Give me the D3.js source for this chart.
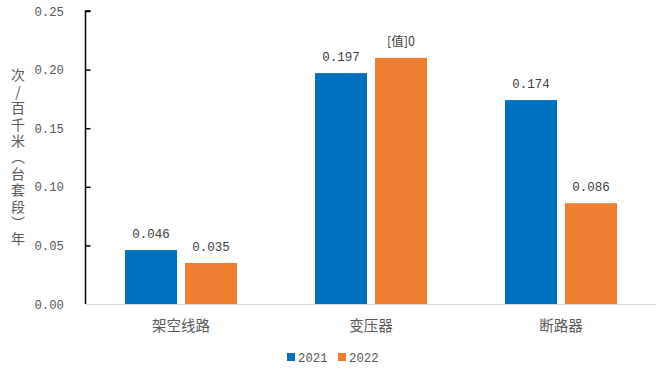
<!DOCTYPE html>
<html>
<head>
<meta charset="utf-8">
<script src="https://cdn.jsdelivr.net/npm/d3@7"></script>
<style>
html,body{margin:0;padding:0;background:#fff;}
svg{display:block;}
</style>
</head>
<body>
<svg id="chart" width="667" height="369"></svg>
<script>
const categories = ["架空线路", "变压器", "断路器"];
const seriesNames = ["2021", "2022"];
const values2021 = [0.046, 0.197, 0.174];
const values2022 = [0.035, 0.210, 0.086];
const labels2021 = ["0.046", "0.197", "0.174"];
const labels2022 = ["0.035", "[值]0", "0.086"];
const yTicks = [0, 0.05, 0.10, 0.15, 0.20, 0.25];
const yTickLabels = ["0.00", "0.05", "0.10", "0.15", "0.20", "0.25"];
const yTitle = "次/百千米（台套段）年";
const colors = ["#0070C0", "#ED7D31"];

(function () {
const svg = d3.select("#chart");
const pLeft = 86, pRight = 656, pTop = 11, pBottom = 304;
const monoFont = "'Liberation Mono', 'DejaVu Sans Mono', monospace";
const cjkFont = "'Noto Sans CJK SC', sans-serif";

const x = d3.scaleBand().domain(categories).range([pLeft, pRight]).paddingInner(0).paddingOuter(0);
const inner = d3.scaleBand().domain(seriesNames).range([39, 151]).paddingInner(8/60).paddingOuter(0);
const y = d3.scaleLinear().domain([0, 0.25]).range([pBottom, pTop]);

// baseline
svg.append("line").attr("x1", pLeft).attr("x2", pRight).attr("y1", y(0)+0.5).attr("y2", y(0)+0.5)
  .attr("stroke", "#d9d9d9").attr("stroke-width", 1);

// y axis
const yAxis = d3.axisRight(y).tickValues(yTicks).tickSize(5).tickFormat("");
const ga = svg.append("g").attr("transform", `translate(${pLeft-0.5},0)`).call(yAxis);
ga.select(".domain").attr("stroke", "#000").attr("stroke-width", 1.5).attr("d", `M5,${pTop}H0V${pBottom}`);
ga.selectAll(".tick line").attr("stroke", "#000").attr("stroke-width", 1.5);
ga.selectAll(".tick").filter(d => d === 0).remove();

// tick labels
svg.append("g").selectAll("text").data(yTicks).join("text")
  .attr("x", 64).attr("y", d => y(d) + 4.5)
  .attr("text-anchor", "end")
  .attr("font-family", monoFont).attr("font-size", 12.3)
  .attr("fill", "#595959")
  .text((d, i) => yTickLabels[i]);

// y title vertical (single text, vertical writing mode)
svg.append("text")
  .attr("x", 18).attr("y", 68)
  .style("writing-mode", "vertical-rl")
  .style("text-orientation", "upright")
  .attr("font-family", cjkFont).attr("font-size", 14)
  .attr("letter-spacing", 2.4)
  .attr("fill", "#595959")
  .text(yTitle);

// bars
const series = [values2021, values2022];
const labelSets = [labels2021, labels2022];
series.forEach((vals, si) => {
  const g = svg.append("g");
  g.selectAll("rect").data(vals).join("rect")
    .attr("x", (d, i) => x(categories[i]) + inner(seriesNames[si]))
    .attr("y", d => y(d))
    .attr("width", inner.bandwidth())
    .attr("height", d => y(0) - y(d))
    .attr("fill", colors[si]);
  g.selectAll("text").data(vals).join("text")
    .attr("x", (d, i) => x(categories[i]) + inner(seriesNames[si]) + inner.bandwidth()/2)
    .attr("y", d => y(d) - 12)
    .attr("text-anchor", "middle")
    .attr("font-family", (d, i) => labelSets[si][i].includes("值") ? cjkFont : monoFont)
    .attr("font-size", 12.5)
    .attr("fill", "#404040")
    .text((d, i) => labelSets[si][i]);
});

// category labels
svg.append("g").selectAll("text").data(categories).join("text")
  .attr("x", d => x(d) + x.bandwidth()/2)
  .attr("y", 331)
  .attr("text-anchor", "middle")
  .attr("font-family", cjkFont).attr("font-size", 14.5)
  .attr("fill", "#595959")
  .text(d => d);

// legend
const legendX = [287, 338];
seriesNames.forEach((s, i) => {
  svg.append("rect").attr("x", legendX[i]).attr("y", 353).attr("width", 8).attr("height", 8).attr("fill", colors[i]);
  svg.append("text").attr("x", legendX[i] + 11).attr("y", 361.5)
    .attr("font-family", monoFont).attr("font-size", 12.3)
    .attr("fill", "#595959").text(s);
});
})();
</script>
</body>
</html>
